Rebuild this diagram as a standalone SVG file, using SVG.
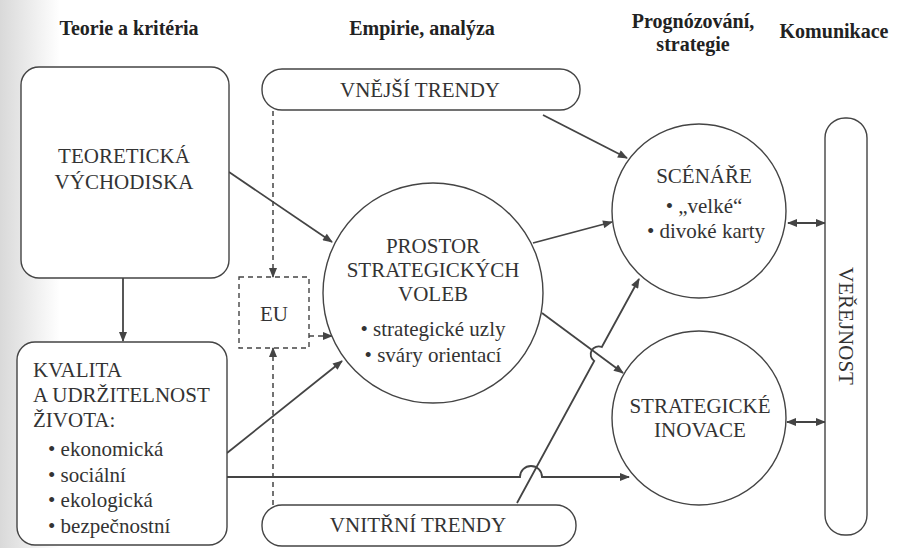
<svg xmlns="http://www.w3.org/2000/svg" width="898" height="548" viewBox="0 0 898 548">
<defs>
<linearGradient id="scan" x1="0" y1="0" x2="1" y2="0">
<stop offset="0" stop-color="#d9d9d9"/>
<stop offset="1" stop-color="#ffffff"/>
</linearGradient>
<marker id="ah" viewBox="0 0 10 8" refX="9" refY="4" markerWidth="11" markerHeight="8" markerUnits="userSpaceOnUse" orient="auto-start-reverse">
<path d="M0,0 L10,4 L0,8 z" fill="#444"/>
</marker>
</defs>
<style>
.hdr{font-family:"Liberation Serif","Times New Roman",serif;font-weight:bold;font-size:20px;fill:#222;text-anchor:middle}
.t{font-family:"Liberation Serif","Times New Roman",serif;font-size:21px;fill:#333}
.c{text-anchor:middle}
.box{fill:#fff;stroke:#444;stroke-width:1.4}
.dbox{fill:none;stroke:#444;stroke-width:1.4;stroke-dasharray:5 4}
.ln{fill:none;stroke:#444;stroke-width:1.8}
.dl{fill:none;stroke:#444;stroke-width:1.5;stroke-dasharray:5 4}
.arr{marker-end:url(#ah)}
.dbl{marker-start:url(#ah);marker-end:url(#ah)}
</style>
<rect width="898" height="548" fill="#fff"/>
<rect width="60" height="548" fill="url(#scan)"/>

<g id="headers">
<text class="hdr" x="129" y="35">Teorie a kritéria</text>
<text class="hdr" x="422" y="35">Empirie, analýza</text>
<text class="hdr" x="693" y="28">Prognózování,</text>
<text class="hdr" x="693" y="51">strategie</text>
<text class="hdr" x="834" y="38">Komunikace</text>
</g>

<g id="connectors">
<path class="ln arr" d="M229,172 L332,242"/>
<path class="ln arr" d="M123,278 L123,341"/>
<path class="ln arr" d="M227,453 L342,361"/>
<path class="ln arr" d="M227,477 L520,477 A11,11 0 0 1 542,477 L629,477"/>
<path class="ln arr" d="M533,243 L612,222"/>
<path class="ln arr" d="M543,115 L627,158"/>
<path class="ln arr" d="M542,313 L623,373"/>
<path class="ln arr" d="M517,503 L594.2,361 A8,8 0 0 1 601.8,347 L639,279"/>
<path class="dl arr" d="M273,111 L273,277"/>
<path class="dl arr" d="M273,505 L273,348"/>
<path class="dl arr" d="M309,336 L332,336"/>
<path class="ln dbl" d="M788,223 L825,223"/>
<path class="ln dbl" d="M787,422 L825,422"/>
</g>

<g id="teoreticka">
<rect class="box" x="21" y="67" width="208" height="211" rx="18"/>
<text class="t c" x="124" y="163">TEORETICKÁ</text>
<text class="t c" x="124" y="189">VÝCHODISKA</text>
</g>

<g id="kvalita">
<rect class="box" x="17" y="342" width="210" height="203" rx="18"/>
<text class="t" x="33" y="377">KVALITA</text>
<text class="t" x="33" y="402">A UDRŽITELNOST</text>
<text class="t" x="33" y="427">ŽIVOTA:</text>
<text class="t" x="48" y="456">•  ekonomická</text>
<text class="t" x="48" y="482">•  sociální</text>
<text class="t" x="48" y="507">•  ekologická</text>
<text class="t" x="48" y="533">•  bezpečnostní</text>
</g>

<g id="vnejsi">
<rect class="box" x="262" y="69" width="318" height="41" rx="20"/>
<text class="t c" x="420" y="97">VNĚJŠÍ TRENDY</text>
</g>

<g id="vnitrni">
<rect class="box" x="262" y="505" width="314" height="41" rx="20"/>
<text class="t c" x="418" y="532">VNITŘNÍ TRENDY</text>
</g>

<g id="eu">
<rect class="dbox" x="239" y="277" width="70" height="71"/>
<text class="t c" x="274" y="321">EU</text>
</g>

<g id="prostor">
<circle class="box" cx="433" cy="293" r="110"/>
<text class="t c" x="433" y="253">PROSTOR</text>
<text class="t c" x="433" y="277">STRATEGICKÝCH</text>
<text class="t c" x="433" y="301">VOLEB</text>
<text class="t c" x="433" y="336">• strategické uzly</text>
<text class="t c" x="433" y="362">• sváry orientací</text>
</g>

<g id="scenare">
<circle class="box" cx="699" cy="211" r="87"/>
<text class="t c" x="704" y="183">SCÉNÁŘE</text>
<text class="t c" x="704" y="213">• „velké“</text>
<text class="t c" x="706" y="238">• divoké karty</text>
</g>

<g id="inovace">
<circle class="box" cx="699" cy="418" r="87"/>
<text class="t c" x="700" y="413">STRATEGICKÉ</text>
<text class="t c" x="700" y="437">INOVACE</text>
</g>

<g id="verejnost">
<rect class="box" x="825" y="118" width="42" height="417" rx="20"/>
<text class="t c" x="0" y="0" transform="translate(839,326) rotate(90)">VEŘEJNOST</text>
</g>
</svg>
